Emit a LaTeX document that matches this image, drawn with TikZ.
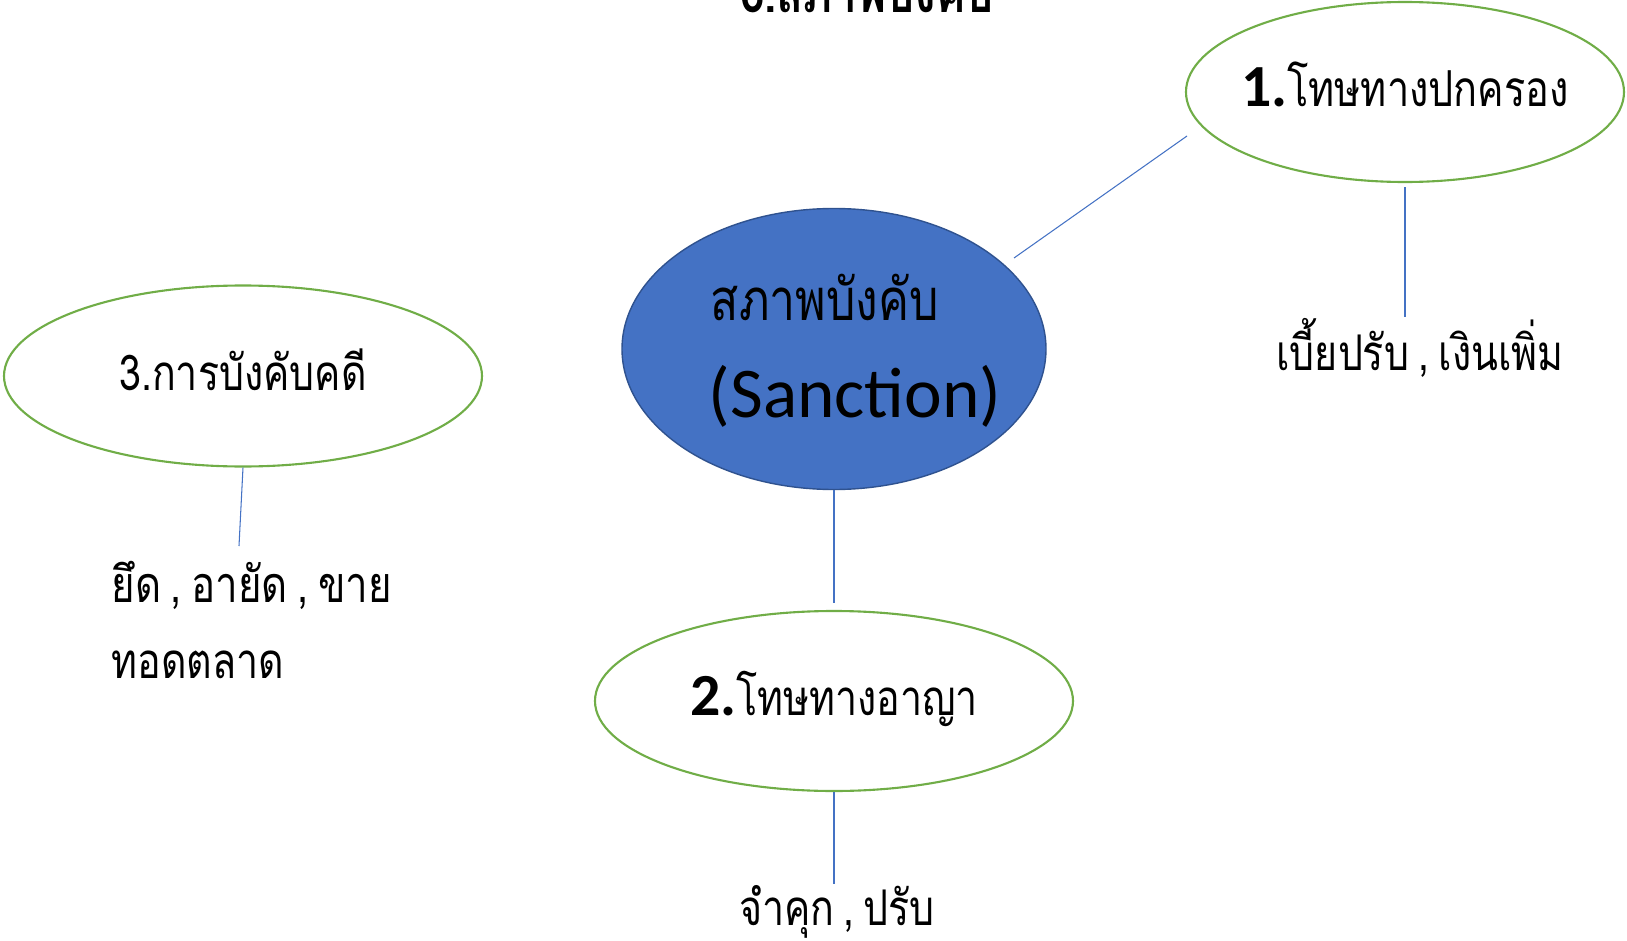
\documentclass[tikz,border=0pt]{standalone}
\usepackage{fontspec}
\setmainfont{Carlito}
\newfontfamily\thaifont[Script=Thai, FakeStretch=0.8, WordSpace=0.7]{Loma}
\usepackage{xcolor}
\usepackage{tikz}
\usetikzlibrary{shapes.geometric,positioning}
\definecolor{ovalblue}{HTML}{4472C4}
\definecolor{ovaledge}{HTML}{2F528F}
\definecolor{ovalgreen}{HTML}{70AD47}

\begin{document}
\begin{tikzpicture}[
	oval/.style={ellipse, draw=ovalgreen, line width=0.6pt, inner sep=0pt, inner xsep=-0.5cm, text height=0.28cm, text depth=0pt},
	link/.style={draw=ovalblue, line width=0.3pt},
	thaitext/.style={font=\thaifont\fontsize{14}{18}\selectfont, inner sep=0pt, anchor=base}
]
\useasboundingbox (0,0) rectangle (16.27,9.40);

	\node[font=\thaifont\bfseries\fontsize{15.7}{18}\selectfont, anchor=base] (title) at (8.67,9.28) {6.สภาพบังคับ};% title, cut by the top edge

	\node[ellipse, fill=ovalblue, draw=ovaledge, line width=0.4pt, minimum width=4.24cm, minimum height=2.81cm] (sanction) at (8.34,5.91) {};% centre
	\node[thaitext, anchor=base west, font=\thaifont\fontsize{16.5}{20}\selectfont] (sanctionth) at (7.10,6.20) {สภาพบังคับ};
	\node[inner sep=0pt, anchor=base west, font=\fontsize{20.3}{24}\selectfont] (sanctionen) at (7.08,5.23) {(Sanction)};

	\node[oval, minimum width=4.38cm, minimum height=1.80cm] (admin) at (14.05,8.48) {{\bfseries\fontsize{17}{20}\selectfont 1.}{\thaifont\fontsize{14.1}{18}\selectfont โทษทางปกครอง}};% right top
	\node[oval, minimum width=4.78cm, minimum height=1.80cm] (criminal) at (8.34,2.39) {{\bfseries\fontsize{17}{20}\selectfont 2.}{\thaifont\fontsize{14}{18}\selectfont โทษทางอาญา}};% bottom
	\node[oval, minimum width=4.78cm, minimum height=1.81cm, font=\thaifont\fontsize{14}{18}\selectfont] (enforce) at (2.43,5.64) {3.การบังคับคดี};% left

	\node[thaitext] (fine) at (14.20,5.70) {เบี้ยปรับ , เงินเพิ่ม};
	\node[thaitext] (jail) at (8.37,0.15) {จำคุก , ปรับ};
	\node[thaitext, anchor=base west, font=\thaifont\fontsize{14.3}{18}\selectfont] (seize) at (1.11,3.38) {ยึด , อายัด , ขาย};
	\node[thaitext, anchor=base west] (seizemore) at (1.11,2.62) {ทอดตลาด};

	\coordinate (sanctionout) at (10.14,6.82);
	\coordinate (adminin) at (11.87,8.04);
	\coordinate (seizetop) at (2.39,3.94);

\draw[link] (sanctionout) -- (adminin);
\draw[link, shorten >=0.07cm] (sanction.south) -- (criminal.north);
\draw[link] (criminal.south) -- (criminal.south |- jail.north);
\draw[link, shorten <=0.04cm] (admin.south) -- (admin.south |- fine.north);
\draw[link] (enforce.south) -- (seizetop);

\end{tikzpicture}
\end{document}
